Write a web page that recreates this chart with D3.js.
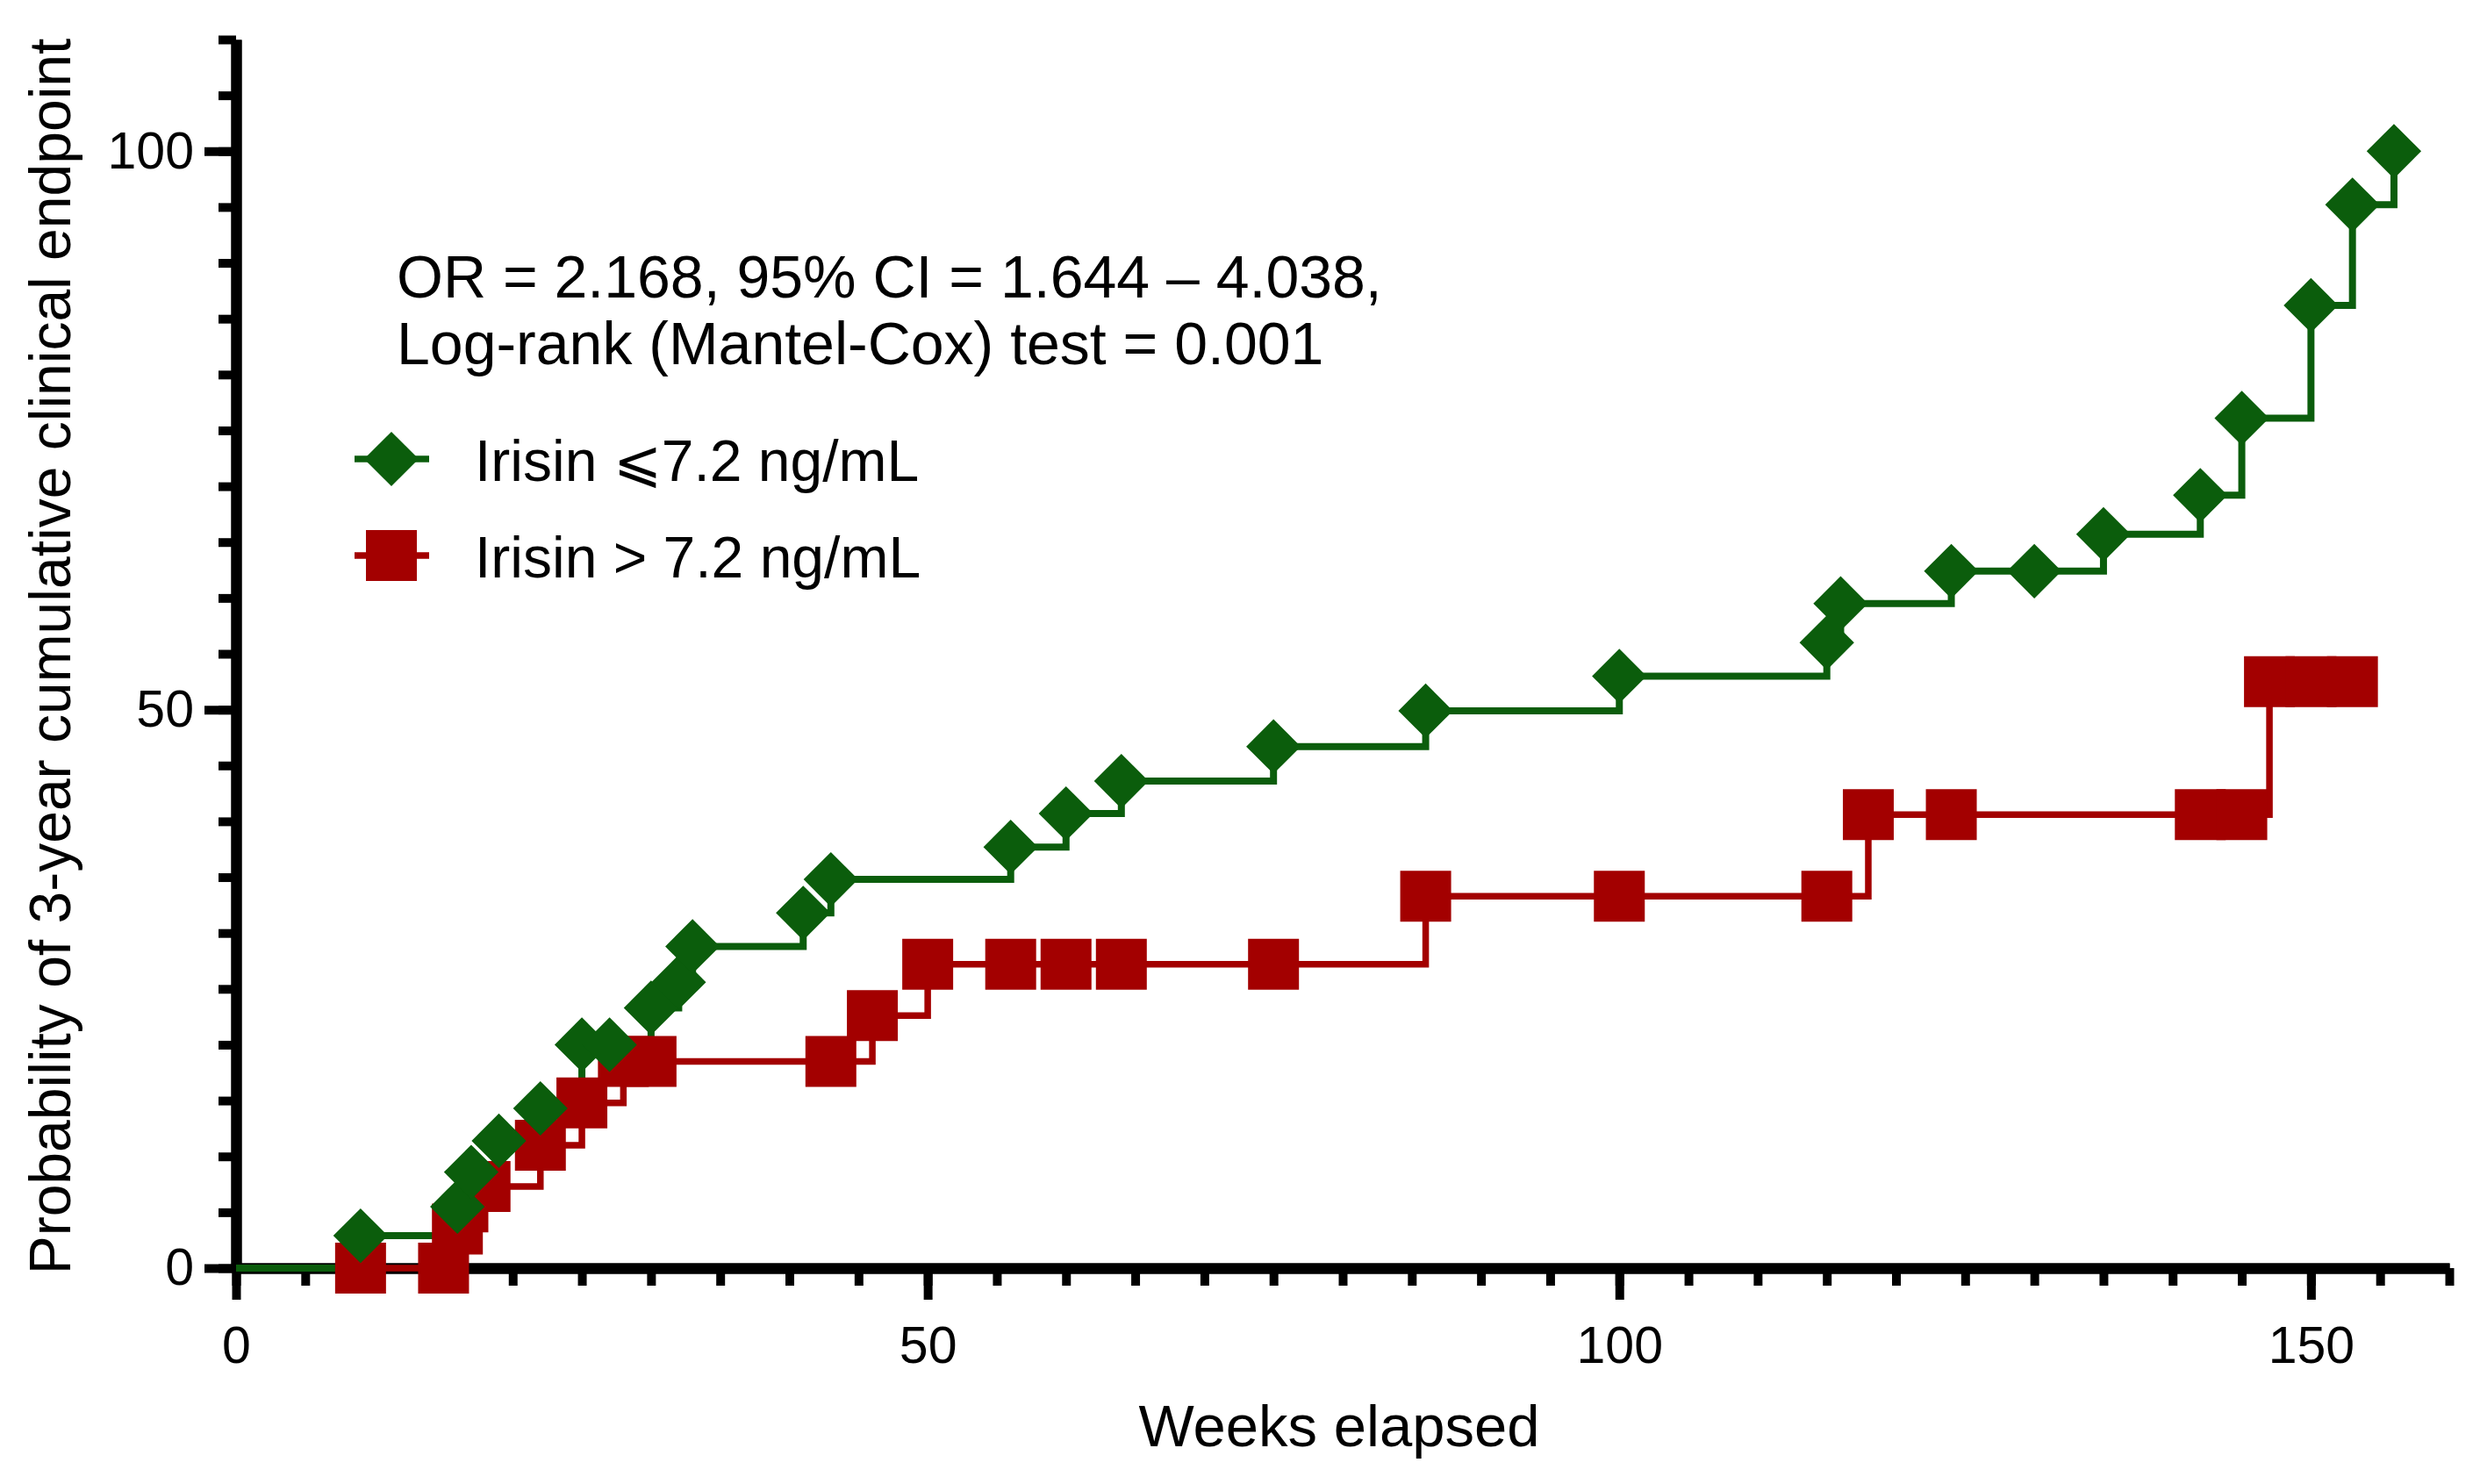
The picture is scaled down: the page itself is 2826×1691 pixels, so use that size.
<!DOCTYPE html>
<html>
<head>
<meta charset="utf-8">
<script src="https://cdn.jsdelivr.net/npm/d3@7"></script>
<style>
  body { margin: 0; background: #fff; }
  text { font-family: "Liberation Sans", Arial, sans-serif; fill: #000; }
</style>
</head>
<body>
<div id="chart"></div>
<script>
// weeks / cumulative probability (%)
var lowWeeks = [9, 16, 17, 19, 22, 25, 27, 30, 32, 33, 41, 43, 56, 60, 64, 75, 86, 100, 115, 116, 124, 130, 135, 142, 145, 150, 153, 156];
var lowPct   = [2.9, 5.5, 8.6, 11.4, 14.3, 20.0, 20.0, 23.3, 25.6, 28.8, 31.8, 34.8, 37.7, 40.7, 43.6, 46.7, 49.9, 53.0, 56.0, 59.5, 62.4, 62.4, 65.7, 69.2, 76.1, 86.2, 95.2, 100];

var highWeeks = [9, 15, 16, 18, 22, 25, 28, 30, 43, 46, 50, 56, 60, 64, 75, 86, 100, 115, 118, 124, 142, 145, 147, 150, 153];
var highPct   = [0, 0, 3.5, 7.3, 11.0, 14.8, 18.5, 18.5, 18.5, 22.6, 27.2, 27.2, 27.2, 27.2, 27.2, 33.3, 33.3, 33.3, 40.6, 40.6, 40.6, 40.6, 52.5, 52.5, 52.5];

var seriesNames = ["Irisin \u2A7D7.2 ng/mL", "Irisin > 7.2 ng/mL"];
var xMajorTicks = [0, 50, 100, 150];
var yMajorTicks = [0, 50, 100];
var noteLines = ["OR = 2.168, 95% CI = 1.644 \u2013 4.038,", "Log-rank (Mantel-Cox) test = 0.001"];

var svgWidth = 2826;
var svgHeight = 1691;
var green = "#0b5d0c";
var red = "#a30000";

var svg = d3.select("#chart").append("svg")
    .attr("width", svgWidth)
    .attr("height", svgHeight);

svg.append("rect").attr("width", svgWidth).attr("height", svgHeight).attr("fill", "#fff");

var xScale = d3.scaleLinear().domain([0, 160]).range([269, 2791]);
var yScale = d3.scaleLinear().domain([0, 110]).range([1445, 45]);

function toPoints(weeks, pct) {
    return weeks.map(function(w, i) { return {w: w, p: pct[i]}; });
}
var lowData = toPoints(lowWeeks, lowPct);
var highData = toPoints(highWeeks, highPct);

// minor ticks every 5
var xMinor = d3.axisBottom(xScale).tickValues(d3.range(0, 161, 5)).tickSize(20).tickSizeOuter(0).tickFormat("");
var yMinor = d3.axisLeft(yScale).tickValues(d3.range(0, 111, 5)).tickSize(20).tickSizeOuter(0).tickFormat("");
var xMajor = d3.axisBottom(xScale).tickValues(xMajorTicks).tickSize(36).tickSizeOuter(0).tickPadding(30);
var yMajor = d3.axisLeft(yScale).tickValues(yMajorTicks).tickSize(36).tickSizeOuter(0).tickPadding(12);

function styleAxis(g) {
    g.select(".domain").attr("stroke", "#000").attr("stroke-width", 12);
    g.selectAll(".tick line").attr("stroke", "#000").attr("stroke-width", 10);
    g.selectAll(".tick text").style("font-size", "59px").attr("fill", "#000")
        .style("font-family", '"Liberation Sans", Arial, sans-serif');
}

svg.append("g").attr("transform", "translate(0," + yScale(0) + ")").call(xMinor).call(styleAxis);
svg.append("g").attr("transform", "translate(" + xScale(0) + ",0)").call(yMinor).call(styleAxis);
svg.append("g").attr("transform", "translate(0," + yScale(0) + ")").call(xMajor).call(styleAxis);
svg.append("g").attr("transform", "translate(" + xScale(0) + ",0)").call(yMajor).call(styleAxis);

var stepLine = d3.line()
    .x(function(d) { return xScale(d.w); })
    .y(function(d) { return yScale(d.p); })
    .curve(d3.curveStepAfter);

var diamond = d3.symbol().type(d3.symbolSquare).size(44 * 44);
var square = d3.symbol().type(d3.symbolSquare).size(58 * 58);

// high group first (drawn underneath)
svg.append("path")
    .datum([{w: 0, p: 0}].concat(highData))
    .attr("d", stepLine)
    .attr("fill", "none")
    .attr("stroke", red)
    .attr("stroke-width", 7.5);

svg.append("path")
    .datum([{w: 0, p: 0}].concat(lowData))
    .attr("d", stepLine)
    .attr("fill", "none")
    .attr("stroke", green)
    .attr("stroke-width", 8);

svg.selectAll(".sq")
    .data(highData)
    .enter()
    .append("path")
    .attr("class", "sq")
    .attr("d", square)
    .attr("transform", function(d) { return "translate(" + xScale(d.w) + "," + yScale(d.p) + ")"; })
    .attr("fill", red);

svg.selectAll(".dm")
    .data(lowData)
    .enter()
    .append("path")
    .attr("class", "dm")
    .attr("d", diamond)
    .attr("transform", function(d) { return "translate(" + xScale(d.w) + "," + yScale(d.p) + ") rotate(45)"; })
    .attr("fill", green);

// axis titles
svg.append("text")
    .attr("transform", "translate(80, 748) rotate(-90)")
    .style("text-anchor", "middle")
    .style("font-size", "66px")
    .text("Probability of 3-year cumulative clinical endpoint");

svg.append("text")
    .attr("x", 1526)
    .attr("y", 1648)
    .style("text-anchor", "middle")
    .style("font-size", "67px")
    .text("Weeks elapsed");

// statistics note
svg.append("g").selectAll("text")
    .data(noteLines)
    .enter()
    .append("text")
    .attr("x", 452)
    .attr("y", function(d, i) { return 339 + i * 76; })
    .style("font-size", "68px")
    .text(function(d) { return d; });

// legend
var legend = svg.append("g").attr("transform", "translate(446, 523)");
var legendRows = legend.selectAll("g")
    .data(seriesNames)
    .enter()
    .append("g")
    .attr("transform", function(d, i) { return "translate(0," + i * 110 + ")"; });

legendRows.append("line")
    .attr("x1", -42).attr("x2", 43)
    .attr("stroke", function(d, i) { return i === 0 ? green : red; })
    .attr("stroke-width", 7.5);

legendRows.append("path")
    .attr("d", function(d, i) { return i === 0 ? diamond() : square(); })
    .attr("transform", function(d, i) { return i === 0 ? "rotate(45)" : null; })
    .attr("fill", function(d, i) { return i === 0 ? green : red; });

legendRows.append("text")
    .attr("x", 95)
    .attr("y", 25)
    .style("font-size", "66px")
    .text(function(d) { return d; });
</script>
</body>
</html>
